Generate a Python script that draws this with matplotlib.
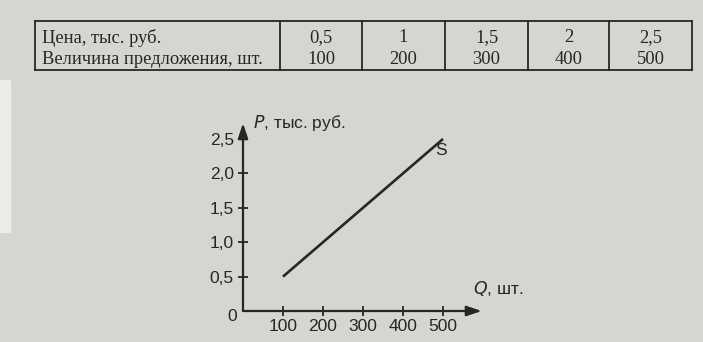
import matplotlib
matplotlib.use("Agg")
import matplotlib.pyplot as plt
from matplotlib.lines import Line2D
from matplotlib.patches import Rectangle

# Supply schedule
price_labels = ["0,5", "1", "1,5", "2", "2,5"]
qty_labels = ["100", "200", "300", "400", "500"]
price = [0.5, 1.0, 1.5, 2.0, 2.5]
quantity = [100, 200, 300, 400, 500]
row_titles = ["Цена, тыс. руб.", "Величина предложения, шт."]
x_ticks = [100, 200, 300, 400, 500]
y_ticks = [0.5, 1.0, 1.5, 2.0, 2.5]
y_tick_labels = ["0,5", "1,0", "1,5", "2,0", "2,5"]

W, H = 703, 342
bg = "#d5d5d2"
ink = "#262626"

fig = plt.figure(figsize=(W / 100, H / 100), dpi=100, facecolor=bg)

def fx(px):
    return px / W

def fy(py):
    return 1 - py / H

# pale page edge on the left
fig.patches.append(Rectangle((0, fy(232)), fx(10), fy(80) - fy(232),
                             transform=fig.transFigure, color="#ececea", zorder=0))

# ---- table ----
left, right, top, bottom = 35, 692, 21, 70
col_edges = [280, 362, 445, 528, 609, right]
lw_t = 1.3
for (x0, y0, x1, y1) in [(left, top, right, top), (left, bottom, right, bottom),
                         (left, top, left, bottom), (right, top, right, bottom)]:
    fig.add_artist(Line2D([fx(x0), fx(x1)], [fy(y0), fy(y1)], color=ink, lw=lw_t))
for xe in col_edges[:-1]:
    fig.add_artist(Line2D([fx(xe), fx(xe)], [fy(top), fy(bottom)], color=ink, lw=lw_t))

serif = "Liberation Serif"
fs_t = 13.3
row_y = [38, 59]
for ty, title in zip(row_y, row_titles):
    fig.text(fx(42), fy(ty), title, family=serif, fontsize=fs_t, color=ink,
             ha="left", va="center")
for i in range(len(price_labels)):
    cx = (col_edges[i] + col_edges[i + 1]) / 2
    fig.text(fx(cx), fy(row_y[0]), price_labels[i], family=serif, fontsize=fs_t,
             color=ink, ha="center", va="center")
    fig.text(fx(cx), fy(row_y[1]), qty_labels[i], family=serif, fontsize=fs_t,
             color=ink, ha="center", va="center")

# ---- supply curve ----
x0_px, y0_px = 243, 311
px_per_unit_x = 40 / 100
px_per_unit_y = 34.4 / 0.5
xmax, ymax = 597, 2.73
ax = fig.add_axes([fx(x0_px), fy(y0_px),
                   xmax * px_per_unit_x / W, ymax * px_per_unit_y / H])
ax.set_facecolor("none")
ax.set_xlim(0, xmax)
ax.set_ylim(0, ymax)
for s in ax.spines.values():
    s.set_visible(False)

arrow_kw = dict(arrowstyle="-|>,head_length=0.9,head_width=0.3", color=ink, lw=1.6,
                shrinkA=0, shrinkB=0)
ax.annotate("", xy=(1, 0), xytext=(0, 0), xycoords="axes fraction",
            arrowprops=arrow_kw)
ax.annotate("", xy=(0, 1), xytext=(0, 0), xycoords="axes fraction",
            arrowprops=arrow_kw)

sans = "Liberation Sans"
fs_a = 12.5
ax.set_xticks(x_ticks)
ax.set_xticklabels([str(v) for v in x_ticks])
ax.set_yticks(y_ticks)
ax.set_yticklabels(y_tick_labels)
ax.tick_params(direction="inout", length=7, width=1.3, color=ink,
               labelsize=fs_a, labelcolor=ink, pad=3)
ax.tick_params(axis="x", pad=2)
for lab in ax.get_xticklabels() + ax.get_yticklabels():
    lab.set_family(sans)
ax.text(-0.045, -0.03, "0", transform=ax.transAxes, family=sans, fontsize=fs_a,
        color=ink, ha="center", va="center")

ax.plot(quantity, price, color=ink, lw=1.9, solid_capstyle="butt", clip_on=False)
ax.text(quantity[-1] - 20, price[-1] - 0.28, "S", family=sans, fontsize=fs_a,
        color=ink, ha="left", va="bottom")

ax.text(0.04, 1.0, r"$\it{P}$, тыс. руб.", transform=ax.transAxes, family=sans,
        fontsize=fs_a, color=ink, ha="left", va="center")
ax.text(0.965, 0.07, r"$\it{Q}$, шт.", transform=ax.transAxes, family=sans,
        fontsize=fs_a, color=ink, ha="left", va="bottom")

fig.savefig("out.png", dpi=100, facecolor=bg)
